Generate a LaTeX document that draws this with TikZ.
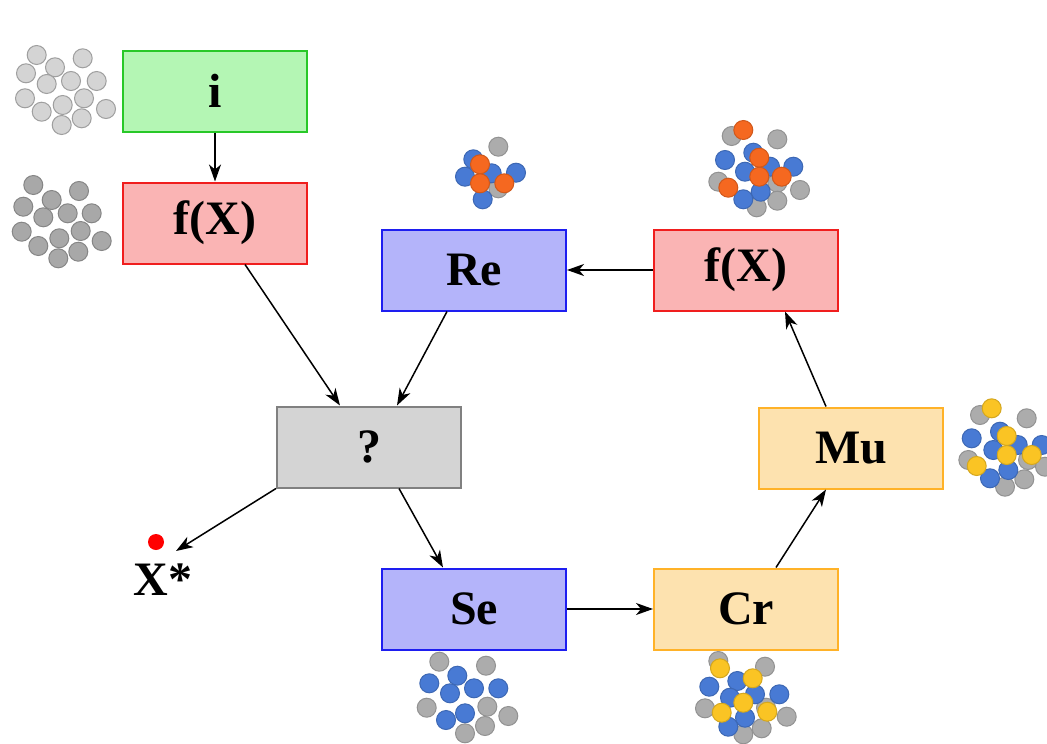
\documentclass[tikz,border=0pt]{standalone}
\usepackage{fontspec}
\setmainfont{Liberation Serif}
\usetikzlibrary{arrows.meta}

\definecolor{gfill}{RGB}{180,246,180}
\definecolor{gline}{RGB}{40,200,40}
\definecolor{rfill}{RGB}{250,180,180}
\definecolor{rline}{RGB}{240,30,30}
\definecolor{bfill}{RGB}{180,180,250}
\definecolor{bline}{RGB}{30,30,240}
\definecolor{qfill}{RGB}{212,212,212}
\definecolor{qline}{RGB}{128,128,128}
\definecolor{yfill}{RGB}{253,226,175}
\definecolor{yline}{RGB}{255,178,40}
\definecolor{dotlight}{RGB}{212,212,212}
\definecolor{dotdark}{RGB}{168,168,168}
\definecolor{dotgray}{RGB}{172,172,172}
\definecolor{dotblue}{RGB}{72,122,212}
\definecolor{dotorange}{RGB}{245,104,32}
\definecolor{dotyellow}{RGB}{250,196,36}

\begin{document}
\begin{tikzpicture}[x=1pt,y=-1pt,
    box/.style={draw,line width=2pt,minimum width=184pt,minimum height=81pt,
                font=\fontsize{48}{52}\selectfont\bfseries},
    arr/.style={line width=1.5pt,-{Stealth[length=17pt,width=12pt,inset=5pt]}},
    dot/.style={line width=1pt}]
    \useasboundingbox (0,0) rectangle (1047,744);

    % boxes
    \node[box,draw=gline,fill=gfill] (init) at (215,91)  {i};
    \node[box,draw=rline,fill=rfill] (fx1)  at (215,223) {f(X)};
    \node[box,draw=bline,fill=bfill] (re)   at (474,270) {Re};
    \node[box,draw=rline,fill=rfill] (fx2)  at (746,270) {f(X)};
    \node[box,draw=qline,fill=qfill] (qm)   at (369,447) {?};
    \node[box,draw=yline,fill=yfill] (mu)   at (851,448) {Mu};
    \node[box,draw=bline,fill=bfill] (se)   at (474,609) {Se};
    \node[box,draw=yline,fill=yfill] (cr)   at (746,609) {Cr};

    % best solution
    \node[circle,fill=red,inner sep=0pt,minimum size=16pt] (best) at (156,542) {};
    \node[font=\fontsize{48}{52}\selectfont\bfseries] (bestlabel) at (163,580) {X*};

    % arrows
    \draw[arr] (init.south) -- (fx1.north);
    \draw[arr] ([xshift=30pt]fx1.south) -- ([xshift=-29pt]qm.north);
    \draw[arr] ([xshift=-27pt]re.south) -- ([xshift=28pt]qm.north);
    \draw[arr] (fx2.west) -- (re.east);
    \draw[arr] (qm.south west) -- ([shift={(20pt,-9pt)}]best.center);
    \draw[arr] ([xshift=30pt]qm.south) -- ([xshift=-31pt]se.north);
    \draw[arr] (se.east) -- (cr.west);
    \draw[arr] ([xshift=30pt]cr.north) -- ([xshift=-25pt]mu.south);
    \draw[arr] ([xshift=-25pt]mu.north) -- ([xshift=39pt]fx2.south);

    % populations
    \foreach \x/\y in {36.7/55,82.7/58.3,55/67.3,26/73.3,46.7/84,71/81,96.7/81,25/98.3,
                       84/98.3,62.7/105,41.7/111.7,106/109,81.7/118.3,61.7/125}
        \filldraw[dot,fill=dotlight,draw=dotlight!75!black] (\x,\y) circle (9.5pt);
    \foreach \x/\y in {33.3/185,79/191,51.7/200,23.3/206.7,43.3/217.3,67.7/213.3,91.7/213.3,
                       21.7/231.7,59.3/238.3,80.7/231,101.7/241,38.3/246,78.3/251.7,58.3/258.3}
        \filldraw[dot,fill=dotdark,draw=dotdark!80!black] (\x,\y) circle (9.5pt);

    % Re
    \foreach \x/\y in {498.3/146.7,498.3/188.3}
        \filldraw[dot,fill=dotgray,draw=dotgray!85!black] (\x,\y) circle (9.5pt);
    \foreach \x/\y in {473.3/159.3,465/176.7,491.7/173.3,516/172.7,482.7/199.3}
        \filldraw[dot,fill=dotblue,draw=dotblue!85!black] (\x,\y) circle (9.5pt);
    \foreach \x/\y in {480/164.3,480/183.3,504.3/183.3}
        \filldraw[dot,fill=dotorange,draw=dotorange!85!black] (\x,\y) circle (9.5pt);

    % f(X) right
    \foreach \x/\y in {731.7/136,777.3/139.3,718.3/181.7,777.3/182.7,800/190,777.3/200.7,756.7/207.3}
        \filldraw[dot,fill=dotgray,draw=dotgray!85!black] (\x,\y) circle (9.5pt);
    \foreach \x/\y in {725/160,753.3/152.7,745/171.7,770/166.7,793.3/166.7,760.7/191.7,743.3/199.3}
        \filldraw[dot,fill=dotblue,draw=dotblue!85!black] (\x,\y) circle (9.5pt);
    \foreach \x/\y in {743.3/130,759.3/157.7,759.3/176.7,728.3/187.7,781.7/176.7}
        \filldraw[dot,fill=dotorange,draw=dotorange!85!black] (\x,\y) circle (9.5pt);

    % Mu
    \foreach \x/\y in {980/415,1026.7/418.3,968.3/460,1028/460,1045/466.7,1024.3/479.3,1005/486.7}
        \filldraw[dot,fill=dotgray,draw=dotgray!85!black] (\x,\y) circle (9.5pt);
    \foreach \x/\y in {971.7/438.3,1000/431.7,993.3/450,1017.7/445,1041.7/445,1008.3/470,990/478.3}
        \filldraw[dot,fill=dotblue,draw=dotblue!85!black] (\x,\y) circle (9.5pt);
    \foreach \x/\y in {991.7/408.3,1006.7/436,1006.7/455,976.7/466,1031.7/455}
        \filldraw[dot,fill=dotyellow,draw=dotyellow!85!black] (\x,\y) circle (9.5pt);

    % Se
    \foreach \x/\y in {439.3/661.7,486/665.7,426.7/707.7,487.3/706.7,508.3/716,485/726,465/733.3}
        \filldraw[dot,fill=dotgray,draw=dotgray!85!black] (\x,\y) circle (9.5pt);
    \foreach \x/\y in {457.3/675.7,429.3/683.3,450/693.3,474/688.3,498.3/688.3,465/713.3,446/720}
        \filldraw[dot,fill=dotblue,draw=dotblue!85!black] (\x,\y) circle (9.5pt);

    % Cr
    \foreach \x/\y in {718.3/661,765/666.7,705/708.3,766/707.7,786.7/716.7,761.7/728.3,743.3/734.3}
        \filldraw[dot,fill=dotgray,draw=dotgray!85!black] (\x,\y) circle (9.5pt);
    \foreach \x/\y in {737.3/681,709.3/686.7,730/697.7,755/694.3,779.3/694.3,745/717.7,728.3/726.7}
        \filldraw[dot,fill=dotblue,draw=dotblue!85!black] (\x,\y) circle (9.5pt);
    \foreach \x/\y in {720/668.3,752.7/678.3,743.3/702.7,721.7/712.7,767.3/711.7}
        \filldraw[dot,fill=dotyellow,draw=dotyellow!85!black] (\x,\y) circle (9.5pt);
\end{tikzpicture}
\end{document}
